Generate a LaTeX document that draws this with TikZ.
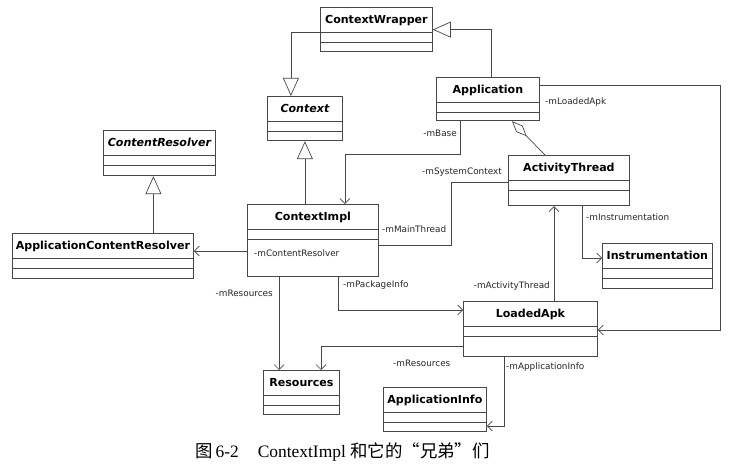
\documentclass[tikz,border=0pt]{standalone}
\usepackage{fontspec}
\setmainfont{Liberation Serif}
\newfontfamily\umlfont{DejaVu Sans}
\newfontfamily\cjk{Noto Sans CJK SC}
\newfontfamily\cjkq[RawFeature=+fwid]{Noto Sans CJK SC}
\usetikzlibrary{shapes.multipart,arrows.meta}
\definecolor{ink}{gray}{0.28}
\tikzstyle{cls} = [rectangle split, rectangle split parts=3, draw=ink, line width=0.8bp, fill=white, inner xsep=0pt, inner ysep=0pt, anchor=north west, align=center, font=\umlfont\bfseries\fontsize{11.1}{12}\selectfont]
\tikzstyle{role} = [inner sep=1bp, font=\umlfont\fontsize{8.9}{10}\selectfont, text=black!85]
\tikzstyle{assoc} = [draw=ink, line width=0.7bp, -{Straight Barb[length=5bp,width=10bp]}]
\tikzstyle{gen} = [draw=ink, line width=0.7bp, -{Triangle[open,length=18bp,width=16bp]}]
\tikzstyle{agg} = [draw=ink, line width=0.7bp, {Diamond[open,length=21bp,width=9bp]}-]
\tikzstyle{link} = [draw=ink, line width=0.7bp]
% #1 name, #2 title, #3 x, #4 y, #5 width, #6 last compartment
\newcommand{\umlcls}[6]{\node[cls, text width=#5bp] (#1) at (#3,#4) {\rule[-8bp]{0pt}{24bp}#2\nodepart{two}\rule{0pt}{9bp}\nodepart{three}\rule{0pt}{#6bp}};}

\begin{document}
\begin{tikzpicture}[x=1bp, y=-1bp]%
	\useasboundingbox (0,0) rectangle (730,471);%
	\fill[white] (0,0) rectangle (730,471);%
	% classes
	\umlcls{cw}{ContextWrapper}{320}{7}{112}{9}%
	\umlcls{ctx}{\itshape Context}{267}{96}{75}{9}%
	\umlcls{app}{Application}{436}{77}{103}{8}%
	\umlcls{at}{ActivityThread}{508}{155}{121}{15}%
	\umlcls{ins}{Instrumentation}{602}{243}{110}{10}%
	\umlcls{apk}{LoadedApk}{463}{301}{134}{20}%
	\umlcls{cr}{\itshape ContentResolver}{103}{130}{112}{10}%
	\umlcls{acr}{ApplicationContentResolver}{12}{233}{181}{10}%
	\umlcls{ci}{ContextImpl}{247}{204}{131}{37}%
	\umlcls{res}{Resources}{263}{370}{76}{9}%
	\umlcls{ai}{ApplicationInfo}{383}{387}{103}{9}%
	% generalisation
	\draw[gen] (cw.text split west) -| ([xshift=-14bp]ctx.north);%
	\draw[gen] ([xshift=3bp]app.north) |- (cw.east);%
	\draw[gen] (ci.north -| ctx.south) -- (ctx.south);%
	\coordinate (crfoot) at ([xshift=-6bp]cr.south);%
	\draw[gen] (crfoot |- acr.north) -- (crfoot);%
	% associations
	\draw[assoc] (ci.west |- 0,251) -- (acr.east |- 0,251);%
	\draw[assoc] ([xshift=-28bp]app.south) -- ++(0,33) -| ([xshift=32bp]ci.north);%
	\draw[link] (ci.east |- 0,245) -- ++(73,0) |- (at.west |- 0,182);%
	\draw[agg] (app.south -| 512,0) -- (at.north -| 545,0);%
	\draw[assoc] (at.south -| 582,0) |- (ins.west |- 0,258);%
	\draw[assoc] (app.east |- 0,85) -- ++(181,0) |- (apk.east |- 0,330);%
	\draw[assoc] (apk.north -| 554,0) -- (at.south -| 554,0);%
	\draw[assoc] (ci.south -| 338,0) |- (apk.west |- 0,310);%
	\draw[assoc] (ci.south -| 279,0) -- (res.north -| 279,0);%
	\draw[assoc] (apk.west |- 0,346) -| (res.north -| 321,0);%
	\draw[assoc] (apk.south -| 504,0) |- (ai.east |- 0,426);%
	% role names
	\node[role, anchor=west] (rcres) at (253,253) {-mContentResolver};%
	\node[role, anchor=east] (rbase) at (458,133) {-mBase};%
	\node[role, anchor=west] (rlapk) at (544,102) {-mLoadedApk};%
	\node[role, anchor=east] (rsys) at (503,172) {-mSystemContext};%
	\node[role, anchor=west] (rmain) at (381,229) {-mMainThread};%
	\node[role, anchor=west] (rinst) at (585,217) {-mInstrumentation};%
	\node[role, anchor=east] (ract) at (551,286) {-mActivityThread};%
	\node[role, anchor=west] (rpkg) at (342,285) {-mPackageInfo};%
	\node[role, anchor=east] (rres) at (274,293) {-mResources};%
	\node[role, anchor=west] (rres2) at (392,363) {-mResources};%
	\node[role, anchor=west] (rainfo) at (505,367) {-mApplicationInfo};%
	% caption
	\node[anchor=west, inner sep=0pt, font=\fontsize{17.5}{20}\selectfont] (cap) at (195,452) {{\cjk 图}\,6-2\hspace{19bp}ContextImpl {\cjk 和它的}{\cjkq “}{\cjk 兄弟}{\cjkq ”}{\cjk 们}};%
\end{tikzpicture}
\end{document}
